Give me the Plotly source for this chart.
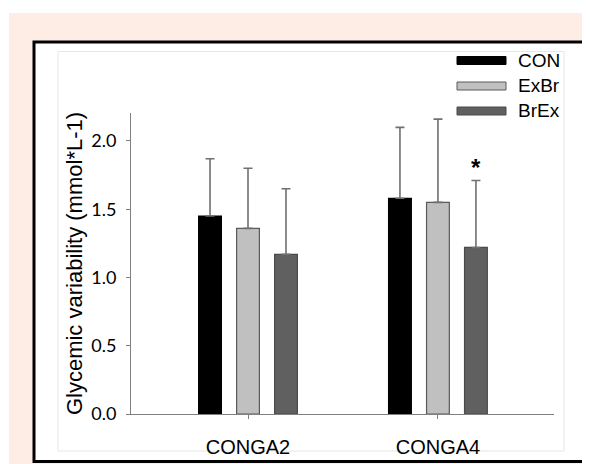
import plotly.graph_objects as go

# ---- data ----
categories = ["CONGA2", "CONGA4"]
series_names = ["CON", "ExBr", "BrEx"]
con_mean = [1.45, 1.58]
con_sd = [0.42, 0.52]
exbr_mean = [1.36, 1.55]
exbr_sd = [0.44, 0.61]
brex_mean = [1.17, 1.22]
brex_sd = [0.48, 0.49]
y_ticks = [0.0, 0.5, 1.0, 1.5, 2.0]
y_title = "Glycemic variability (mmol*L-1)"
star_label = "<b>*</b>"

means = [con_mean, exbr_mean, brex_mean]
sds = [con_sd, exbr_sd, brex_sd]
fills = ["#000000", "#c0c0c0", "#606060"]
outlines = ["#000000", "#5a5a5a", "#4a4a4a"]

# the page body adds an 8px offset; screen coords = figure coords + O
O = 8
W, H = 590, 464
L, R, T, B = 131 - O, 554 - O, 113 - O, 414 - O


def px(x):
    return (x - O - L) / (R - L)


def py(y):
    return (B - (y - O)) / (B - T)


fig = go.Figure()
for name, m, s, fc, lc in zip(series_names, means, sds, fills, outlines):
    fig.add_trace(go.Bar(
        x=categories, y=m, name=name,
        marker=dict(color=fc, line=dict(color=lc, width=1.2)),
        error_y=dict(type="data", symmetric=False, array=s,
                     arrayminus=[0] * len(s), color="#707070",
                     thickness=1.6, width=4.5),
        showlegend=False,
    ))

shapes = [
    dict(type="rect", xref="paper", yref="paper", x0=px(9), x1=px(700),
         y0=py(13), y1=py(600), fillcolor="#fdede4", line=dict(width=0),
         layer="below"),
    dict(type="rect", xref="paper", yref="paper", x0=px(34), x1=px(585),
         y0=py(42), y1=py(461.5), fillcolor="white",
         line=dict(color="black", width=3), layer="below"),
    dict(type="rect", xref="paper", yref="paper", x0=px(58), x1=px(564),
         y0=py(51.5), y1=py(451), line=dict(color="#e6e6e6", width=1),
         layer="below"),
]

annotations = []
# legend
leg_y = [60.5, 86, 111]
for name, fc, lc, yy in zip(series_names, fills, outlines, leg_y):
    shapes.append(dict(type="rect", xref="paper", yref="paper",
                       x0=px(457), x1=px(506), y0=py(yy - 4), y1=py(yy + 4),
                       fillcolor=fc, line=dict(color=lc, width=1)))
    annotations.append(dict(xref="paper", yref="paper", x=px(516), y=py(yy),
                            text=name, showarrow=False, xanchor="left",
                            yanchor="middle",
                            font=dict(family="Liberation Sans, Arial",
                                      size=19, color="black")))

# significance star above BrEx CONGA4
annotations.append(dict(x=categories[1], y=brex_mean[1] + brex_sd[1],
                        xref="x", yref="y", text=star_label, showarrow=False,
                        xshift=38, yshift=-2, yanchor="bottom",
                        font=dict(family="Liberation Sans, Arial", size=24,
                                  color="black")))

fig.update_layout(
    width=W, height=H, autosize=False,
    margin=dict(l=L, r=W - R, t=T, b=H - B, pad=0),
    paper_bgcolor="white", plot_bgcolor="white",
    barmode="group", bargap=0.4, bargroupgap=0.4,
    shapes=shapes, annotations=annotations,
    xaxis=dict(range=[-0.616, 1.611], showline=True, linecolor="#808080",
               linewidth=1, ticks="outside", ticklen=4, tickcolor="#808080",
               showgrid=False, zeroline=False, ticklabelstandoff=11,
               tickfont=dict(family="Liberation Sans, Arial", size=20,
                             color="black")),
    yaxis=dict(range=[0, 2.205], showline=True, linecolor="#808080",
               linewidth=1, ticks="outside", ticklen=4, tickcolor="#808080",
               showgrid=False, zeroline=False, tickvals=y_ticks,
               tickformat=".1f", ticklabelstandoff=6,
               tickfont=dict(family="Lato", size=18, color="black"),
               title=dict(text=y_title, standoff=2,
                          font=dict(family="Liberation Sans, Arial", size=22,
                                    color="black"))),
)

fig.write_html("out.html", config={"displayModeBar": False})
